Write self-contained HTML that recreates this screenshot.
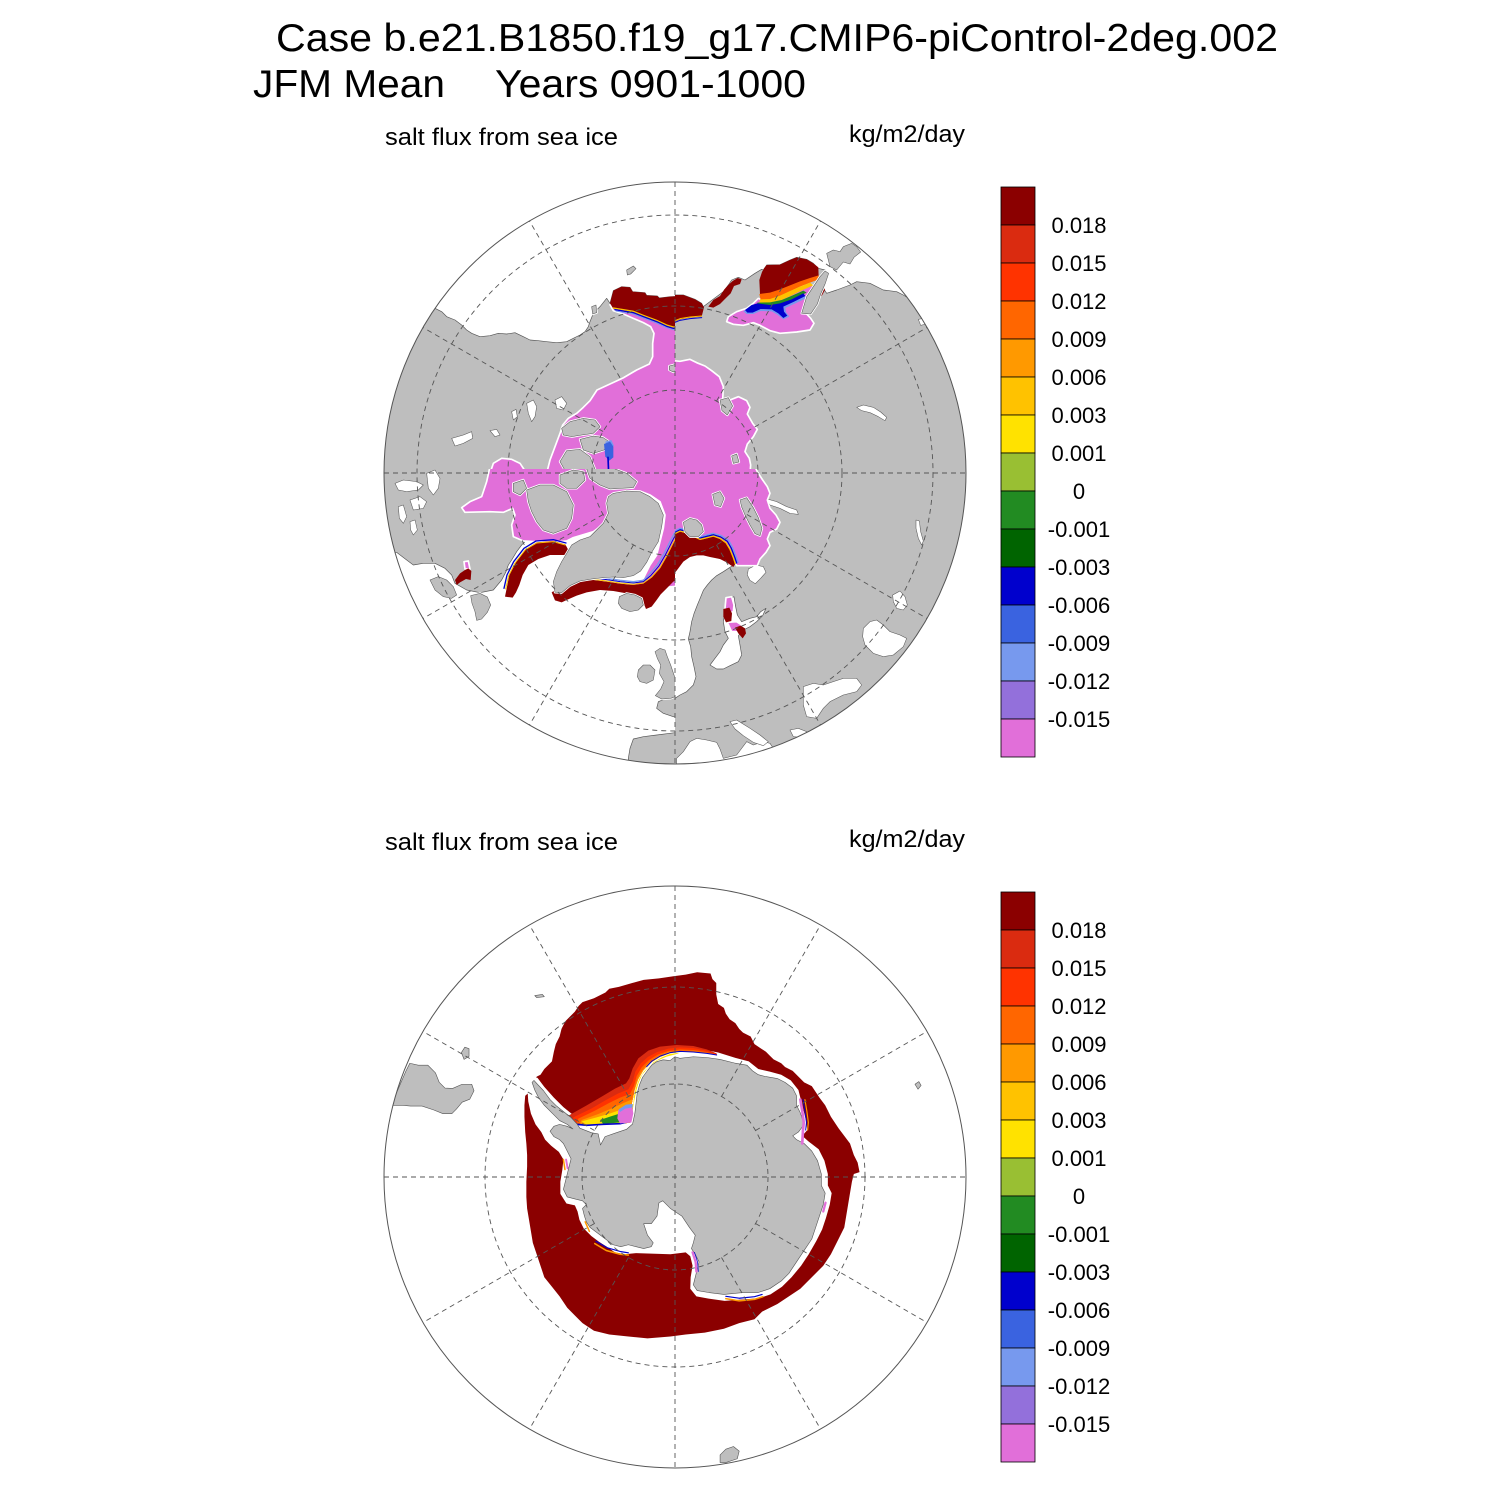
<!DOCTYPE html>
<html><head><meta charset="utf-8">
<style>
html,body{margin:0;padding:0;background:#fff}
svg{display:block}
.w{fill:#fff;stroke:#555;stroke-width:2;stroke-linejoin:round}
.wz{fill:#fff;stroke:#555;stroke-width:1.6;stroke-linejoin:round}
.p{fill:#E16FD9;stroke:#fff;stroke-width:5;stroke-linejoin:round}
.r{fill:#8B0000}
.halo{fill:#fff;stroke:#fff;stroke-width:7;stroke-linejoin:round}
.land{fill:#BEBEBE;stroke:#555;stroke-width:1.6;stroke-linejoin:round}
.grid{fill:none;stroke:#555;stroke-width:0.9;stroke-dasharray:5 4}
.ln{fill:none;stroke-linejoin:round;stroke-linecap:round}
.t{font-family:"Liberation Sans",Arial,Helvetica,sans-serif;fill:#000}
</style></head><body>
<svg width="1500" height="1500" viewBox="0 0 1500 1500" xmlns="http://www.w3.org/2000/svg">
<defs>
<clipPath id="cN"><circle cx="675" cy="473" r="291"/></clipPath>
<clipPath id="cS"><circle cx="675" cy="1177" r="291"/></clipPath>
<clipPath id="q5"><rect x="370" y="160" width="305" height="309"/></clipPath>
<clipPath id="q6"><rect x="675" y="160" width="305" height="309"/></clipPath>
<clipPath id="q7"><rect x="370" y="469" width="305" height="305"/></clipPath>
<clipPath id="q8"><rect x="675" y="469" width="305" height="305"/></clipPath>
</defs>
<rect width="1500" height="1500" fill="#fff"/>

<text class="t" x="276" y="51" font-size="39" textLength="1002" lengthAdjust="spacingAndGlyphs">Case b.e21.B1850.f19_g17.CMIP6-piControl-2deg.002</text>
<text class="t" x="253" y="97" font-size="39" textLength="192" lengthAdjust="spacingAndGlyphs">JFM Mean</text>
<text class="t" x="495" y="97" font-size="39" textLength="311" lengthAdjust="spacingAndGlyphs">Years 0901-1000</text>

<text class="t" x="385" y="145" font-size="24" textLength="233" lengthAdjust="spacingAndGlyphs">salt flux from sea ice</text>
<text class="t" x="849" y="142" font-size="24" textLength="116" lengthAdjust="spacingAndGlyphs">kg/m2/day</text>
<text class="t" x="385" y="850" font-size="24" textLength="233" lengthAdjust="spacingAndGlyphs">salt flux from sea ice</text>
<text class="t" x="849" y="847" font-size="24" textLength="116" lengthAdjust="spacingAndGlyphs">kg/m2/day</text>

<!-- ================= NORTH MAP ================= -->
<g clip-path="url(#cN)">
<circle cx="675" cy="473" r="291" fill="#BEBEBE"/>

<!-- Q5 -->
<g clip-path="url(#q5)"><g transform="translate(380 170) scale(0.333333)">
<polygon class="w" points="-10,-10 910,-10 910,378 870,380 838,384 832,378 800,376 795,368 758,365 750,352 725,350 700,362 690,400 680,385 660,410 640,430 630,455 625,470 615,485 600,495 580,505 560,515 530,518 500,515 475,512 450,510 430,500 405,488 380,492 355,490 330,497 300,500 275,490 260,480 245,465 225,450 200,440 185,425 165,415 -10,415"/>
<polygon class="wz" points="440,700 460,690 470,710 465,740 455,755 445,730"/>
<polygon class="wz" points="525,690 545,680 560,700 550,720 530,715"/>
<polygon class="wz" points="215,805 250,795 275,785 278,805 250,820 225,828"/>
<polygon class="wz" points="395,725 408,718 412,740 400,750"/>
<polygon class="wz" points="330,782 350,778 360,795 345,800"/>
<polygon class="p" points="690,404 760,418 800,432 830,445 860,460 910,468 910,910 500,910 510,870 525,830 540,790 548,765 565,745 590,730 610,712 630,692 651,660 690,642 729,624 770,600 808,582 818,560 818,520 822,490 812,470 790,458 760,445 730,432 700,422"/>
<polygon class="p" points="330,910 340,880 365,865 395,868 420,880 440,910"/>
<polygon class="r" points="690,400 700,362 725,350 750,352 758,365 795,368 800,376 832,378 838,384 870,380 910,378 910,470 880,473 860,467 830,453 790,438 760,426 700,416"/>
<polyline class="ln" stroke="#FFC200" stroke-width="4" points="700,414 760,424 790,436 830,451 860,465 880,471 910,468"/>
<polyline class="ln" stroke="#0000CD" stroke-width="4" points="705,419 760,428 790,440 830,455 860,469 880,475 910,472"/>
<polyline class="ln" stroke="#7799EE" stroke-width="3" points="708,423 760,432 790,444 830,459 860,473 880,479 910,476"/>
<g class="halo"><g id="i5">
<polygon points="545,775 570,755 610,745 645,750 660,770 640,790 605,795 575,800 550,795"/>
<polygon points="600,808 640,798 668,802 688,815 672,840 640,850 610,840"/>
<polygon points="560,842 600,838 630,860 650,910 560,910 540,875"/>
<polygon points="740,300 760,288 768,296 752,312 742,315"/>
<polygon points="635,410 648,405 650,428 638,432"/>
<polygon points="868,588 884,584 894,596 880,606 868,600"/>
</g></g>
<use href="#i5" class="land"/>
<polygon fill="#7799EE" points="676,815 694,810 702,828 680,830"/>
<polygon fill="#3A63E0" points="672,822 690,815 700,830 700,862 688,872 676,860"/>
<polyline class="ln" stroke="#0000CD" stroke-width="5" points="684,862 686,910"/>
</g></g>

<!-- Q6 -->
<g clip-path="url(#q6)"><g transform="translate(670 170) scale(0.333333)">
<polygon class="w" points="-10,-10 910,-10 910,470 770,460 760,440 740,400 700,375 680,365 640,360 600,340 560,335 540,345 500,360 470,370 460,355 475,310 465,300 445,295 430,280 410,268 380,262 360,270 330,284 290,285 280,300 275,298 255,310 225,330 205,322 185,330 175,345 160,365 140,380 120,395 100,410 95,400 75,388 40,375 0,375 -10,375"/>
<polygon class="wz" points="560,712 580,705 610,712 632,726 650,742 645,752 625,740 600,728 575,722"/>
<polygon class="wz" points="745,448 760,445 768,462 752,466"/>
<polygon class="p" points="175,440 200,425 230,415 250,400 265,385 280,392 300,392 330,382 360,368 395,350 420,342 440,352 432,372 420,400 408,430 422,445 432,460 420,480 380,486 330,490 300,482 270,466 250,458 220,466 190,463 170,455"/>
<polygon class="p" points="-10,570 30,574 60,568 80,578 105,588 125,602 148,620 160,650 158,690 180,690 205,680 230,692 240,712 232,732 248,760 262,778 250,800 232,822 225,845 238,865 242,885 240,910 -10,910"/>
<polygon class="r" points="-10,375 0,375 40,375 75,388 95,400 102,412 95,440 60,443 30,448 0,460 -10,465"/>
<polyline class="ln" stroke="#FFC200" stroke-width="3" points="-10,463 0,458 30,446 60,441 95,438"/>
<polyline class="ln" stroke="#0000CD" stroke-width="3" points="-10,468 0,463 30,451 60,446 95,443"/>
<polygon class="r" points="115,410 130,390 150,378 163,358 175,345 188,333 203,324 215,328 210,342 192,348 182,370 166,386 150,402 130,413"/>
<polygon class="r" points="268,330 276,306 282,295 290,285 330,284 360,270 380,262 410,268 430,280 445,292 446,320 420,336 390,347 360,362 330,376 300,386 280,388 270,372"/>
<polygon fill="#FF6600" points="268,372 300,368 330,358 360,346 390,334 420,324 446,316 446,328 420,338 390,350 360,364 330,378 300,388 272,390"/>
<polygon fill="#FFC200" points="270,388 300,387 330,377 360,363 392,349 420,338 430,346 398,360 365,376 335,390 300,398 268,400"/>
<polygon fill="#228B22" points="262,398 300,397 335,390 368,376 400,362 410,368 372,386 340,400 300,406 262,408"/>
<polygon fill="#7799EE" points="220,424 245,408 262,404 300,410 330,404 365,392 404,376 410,384 372,402 346,414 348,426 358,440 340,448 322,434 305,424 272,423 250,432 230,432"/>
<polygon fill="#0000CD" points="225,420 245,405 262,400 300,405 330,400 365,388 400,370 406,378 370,396 340,410 342,425 352,437 340,444 325,430 305,418 272,417 248,428 232,428"/>
<polygon class="r" points="445,350 460,345 465,360 455,378 445,372"/>
<polygon class="p" points="436,374 448,374 445,392 435,392"/>
<g class="halo"><g id="i6">
<polygon points="395,430 410,380 430,350 450,320 465,303 476,310 466,340 452,372 442,402 422,432"/>
<polygon points="470,250 490,240 510,245 520,230 545,220 560,230 572,246 552,262 540,282 520,276 500,300 480,290"/>
<polygon points="150,690 175,683 188,708 172,735 156,722"/>
<polygon points="185,858 200,852 207,876 190,880"/>
</g></g>
<use href="#i6" class="land"/>
</g></g>

<!-- Q7 -->
<g clip-path="url(#q7)"><g transform="translate(380 465) scale(0.333333)">
<polygon class="w" points="50,262 80,285 100,300 130,295 165,295 195,310 215,330 225,355 260,375 300,383 340,375 365,345 378,320 385,300 395,285 410,260 425,240 440,225 470,222 520,225 560,222 575,212 600,205 640,195 675,170 688,140 680,110 690,88 720,74 780,68 810,58 850,38 880,18 910,10 910,690 880,690 860,700 835,710 830,730 850,745 880,755 900,760 910,760 910,800 870,805 830,810 790,815 760,822 750,850 745,880 745,910 -10,910 -10,262"/>
<polygon class="wz" points="45,55 70,45 110,50 130,60 115,75 80,80 55,75"/>
<polygon class="wz" points="90,105 120,95 140,110 130,130 100,135"/>
<polygon class="wz" points="140,25 165,15 180,40 175,70 160,90 145,70"/>
<polygon class="wz" points="55,125 70,120 80,155 70,175 58,160"/>
<polygon class="wz" points="90,170 105,165 112,195 100,210 92,195"/>
<polygon class="p" points="330,-10 330,5 320,50 305,95 270,110 245,128 255,142 330,140 370,142 398,130 405,150 395,180 400,215 430,228 470,230 520,232 560,228 580,218 600,212 640,200 670,178 690,150 685,115 700,90 740,78 780,78 810,90 840,110 855,150 850,190 840,230 830,270 810,300 790,340 770,352 740,360 700,358 660,355 620,358 590,362 570,372 800,372 910,362 910,-10"/>
<polygon class="p" points="252,290 265,288 270,312 255,312"/>
<polygon class="r" points="375,395 380,370 388,330 408,292 438,252 470,232 520,228 556,238 565,255 556,270 510,270 475,282 445,300 428,330 418,360 408,382 398,398"/>
<polyline class="ln" stroke="#FFC200" stroke-width="3" points="377,372 386,332 405,294 436,254 470,234 520,230 556,240"/>
<polyline class="ln" stroke="#0000CD" stroke-width="4" points="372,370 381,330 401,290 432,250 468,228 520,224 558,234"/>
<polygon class="r" points="225,345 240,325 255,315 265,310 274,318 272,345 258,342 240,352 230,360"/>
<polygon class="r" points="515,382 530,372 560,362 600,348 640,345 680,350 720,356 760,360 790,356 815,338 840,310 860,275 880,235 895,205 910,195 910,332 880,350 860,370 842,388 830,405 815,425 798,432 790,412 760,395 740,385 700,378 660,375 620,382 590,392 560,405 545,412 525,406"/>
<polyline class="ln" stroke="#FFC200" stroke-width="3" points="530,370 560,360 600,346 640,343 680,348 720,354 760,358 790,354 815,336 840,308 860,273 880,233 895,203 910,193"/>
<polyline class="ln" stroke="#0000CD" stroke-width="3" points="560,356 600,342 640,339 680,344 720,350 760,354 790,350 812,332 836,304 856,270 876,230 892,200 910,189"/>
<polyline class="ln" stroke="#7799EE" stroke-width="4" points="600,338 640,335 680,340 720,346 760,350 790,346 808,328 832,300 852,266 872,226 888,196 910,185"/>
<g class="halo"><g id="i7">
<polygon points="685,95 700,85 740,78 780,80 810,95 835,115 850,150 845,185 835,230 815,262 800,292 782,318 760,332 730,338 700,336 670,338 635,342 600,348 570,362 545,383 525,382 520,350 530,320 545,290 560,265 575,240 600,225 630,215 650,195 670,175 685,145 680,115"/>
<polygon points="440,75 480,60 520,60 560,80 580,120 575,160 560,190 520,205 490,195 470,170 455,140 445,110"/>
<polygon points="620,12 660,5 700,10 740,25 770,50 760,68 720,70 690,72 660,60 630,40"/>
<polygon points="540,30 580,15 610,20 615,45 590,70 560,70 540,55"/>
<polygon points="400,55 430,45 440,70 420,90 400,80"/>
<polygon points="718,395 740,385 765,390 785,400 790,420 775,435 750,440 725,430 715,415"/>
<polygon points="775,615 790,600 810,600 825,615 820,645 800,655 780,650 772,635"/>
<polygon points="825,560 840,550 855,555 862,575 872,600 882,630 892,660 898,690 872,700 845,702 826,692 842,672 852,650 838,625 842,600 832,580"/>
<polygon points="272,392 300,385 322,396 332,420 322,442 305,462 290,466 285,440 276,415"/>
<polygon points="150,345 175,335 200,345 220,365 230,390 215,400 190,395 165,375"/>
</g></g>
<use href="#i7" class="land"/>
</g></g>

<!-- Q8 -->
<g clip-path="url(#q8)"><g transform="translate(670 465) scale(0.333333)">
<polygon class="w" points="-10,250 100,268 170,286 192,300 180,307 160,320 140,332 125,345 112,360 100,376 92,396 82,420 72,446 65,470 60,500 55,522 62,545 65,575 72,605 78,635 70,660 50,680 30,690 15,700 -10,705"/>
<polygon class="w" points="120,600 135,580 150,560 160,540 175,520 165,500 160,470 165,440 175,420 180,400 192,395 196,420 202,450 215,470 240,460 260,455 272,440 288,430 278,452 260,470 240,485 220,495 205,512 210,540 215,570 205,590 180,602 160,612 140,612"/>
<polygon class="wz" points="235,312 258,300 280,305 288,322 272,340 256,356 240,346 232,330"/>
<polygon class="wz" points="400,665 430,655 460,660 490,650 520,640 560,640 575,660 560,680 520,690 480,710 460,730 440,760 410,755 400,720"/>
<polygon class="wz" points="580,490 600,470 620,465 640,480 660,500 690,510 710,520 700,545 670,570 640,575 610,565 585,540 578,515"/>
<polygon class="wz" points="668,390 690,378 705,395 712,420 700,435 680,430 670,410"/>
<polygon class="wz" points="738,165 748,168 752,200 760,228 755,240 745,220 738,190"/>
<polygon class="wz" points="20,880 40,860 60,830 80,820 110,825 140,832 150,852 160,880 200,870 230,830 250,840 280,830 300,835 310,850 290,870 250,890 200,910 20,910"/>
<polygon class="wz" points="180,770 200,765 240,790 270,810 295,830 280,842 250,832 220,812 195,792"/>
<polygon class="wz" points="360,795 385,790 410,800 400,818 370,815"/>
<polygon class="wz" points="285,100 320,110 350,125 380,135 385,148 360,145 330,130 300,120"/>
<polygon class="p" points="-10,-10 250,-10 258,12 262,20 278,45 292,65 300,85 292,105 300,130 318,150 330,172 320,192 300,202 292,222 300,242 288,262 270,282 262,302 200,302 190,285 175,245 150,232 110,232 70,226 30,212 -10,236"/>
<polygon class="p" points="168,398 185,395 192,420 190,440 175,445 165,430"/>
<polygon class="p" points="172,472 200,470 215,480 205,500 185,500"/>
<polygon class="r" points="160,432 178,428 186,445 184,468 168,472 160,455"/>
<polygon class="r" points="195,488 212,482 225,490 228,505 218,520 205,505"/>
<polygon class="r" points="-10,230 10,210 30,200 50,205 70,215 90,225 110,220 130,215 150,222 168,235 180,255 190,280 195,298 190,306 170,292 150,282 120,276 100,271 80,271 60,276 40,290 25,310 10,330 0,345 -10,350"/>
<polyline class="ln" stroke="#FFC200" stroke-width="4" points="-10,228 10,208 30,198 50,203 70,213 90,223 110,218 130,213 150,220 168,233 180,253 190,278 196,296"/>
<polyline class="ln" stroke="#0000CD" stroke-width="4" points="-10,224 10,204 30,194 50,199 70,209 90,219 110,214 130,209 152,216 172,229 184,250 194,276 200,294"/>
<polyline class="ln" stroke="#7799EE" stroke-width="4" points="-10,220 10,200 30,190 50,195 70,205 90,215 110,210 130,205 154,212 176,226 188,248 198,274 204,292"/>
<g class="halo"><g id="i8">
<polygon points="40,172 60,160 80,165 95,180 100,200 85,215 60,215 45,200"/>
<polygon points="210,105 230,98 250,128 265,158 276,190 270,212 255,206 240,180 226,152 215,126"/>
<polygon points="128,88 150,80 162,100 152,125 135,120"/>
</g></g>
<use href="#i8" class="land"/>
</g></g>
</g>

<!-- North grid -->
<g class="grid">
<circle cx="675" cy="473" r="83"/>
<circle cx="675" cy="473" r="167"/>
<circle cx="675" cy="473" r="258"/>
<line x1="384" y1="473" x2="966" y2="473"/>
<line x1="675" y1="182" x2="675" y2="764"/>
<line x1="716.5" y1="401.1" x2="820.5" y2="221"/>
<line x1="746.9" y1="431.5" x2="927" y2="327.5"/>
<line x1="746.9" y1="514.5" x2="927" y2="618.5"/>
<line x1="716.5" y1="544.9" x2="820.5" y2="725"/>
<line x1="633.5" y1="544.9" x2="529.5" y2="725"/>
<line x1="603.1" y1="514.5" x2="423" y2="618.5"/>
<line x1="603.1" y1="431.5" x2="423" y2="327.5"/>
<line x1="633.5" y1="401.1" x2="529.5" y2="221"/>
</g>
<circle cx="675" cy="473" r="291" fill="none" stroke="#555" stroke-width="1"/>

<!-- ================= SOUTH MAP ================= -->
<g clip-path="url(#cS)">
<circle cx="675" cy="1177" r="291" fill="#fff"/>
<g transform="translate(380 876) scale(0.38212)">
<polygon class="r" points="770,262 800,258 830,252 865,255 870,270 880,280 880,310 885,335 900,345 905,360 915,375 930,385 940,400 950,410 970,420 980,440 995,450 1010,460 1020,470 1030,480 1050,490 1060,500 1080,510 1095,525 1110,540 1130,550 1150,580 1165,600 1180,630 1200,660 1215,680 1230,700 1240,730 1250,750 1255,775 1240,780 1235,800 1230,830 1225,860 1220,890 1215,920 1200,950 1180,990 1160,1020 1130,1050 1100,1080 1070,1100 1040,1120 1000,1140 980,1160 940,1170 900,1185 850,1195 800,1200 760,1205 700,1210 650,1205 600,1200 560,1190 530,1170 510,1150 490,1130 470,1100 450,1075 430,1050 420,1020 410,990 400,960 395,930 390,900 385,870 383,840 383,800 385,760 385,730 383,700 380,670 378,630 378,600 380,575 392,565 405,550 410,525 420,520 430,505 450,485 455,460 460,440 470,420 475,400 485,380 500,365 510,355 520,340 530,330 560,320 590,305 600,295 625,290 660,280 690,272 730,268"/>
<polygon fill="#fff" points="395,532 412,528 430,552 455,580 480,605 505,625 541,640 584,640 628,640 650,635 652,600 656,560 665,525 680,500 705,475 730,460 760,450 790,448 820,452 855,456 885,462 930,476 965,485 990,505 1020,512 1050,520 1075,535 1095,560 1105,600 1115,640 1118,665 1105,680 1122,695 1148,715 1163,745 1172,780 1172,810 1182,830 1177,860 1167,895 1157,925 1142,955 1122,990 1102,1020 1077,1050 1052,1075 1022,1095 992,1105 952,1108 902,1112 860,1106 828,1100 812,1080 813,1050 818,1020 812,995 800,985 760,990 700,988 670,987 640,990 615,985 593,970 573,957 553,942 533,922 522,900 517,878 510,862 488,857 472,832 472,800 477,770 480,742 468,722 448,706 432,690 422,670 407,650 395,622 388,590 386,560"/>
</g>
<g transform="translate(520 1000) scale(0.333333)">
<polygon fill="#DA2B10" points="140,350 200,316 245,290 285,266 318,250 328,235 338,205 355,175 385,152 420,140 470,135 520,138 560,148 590,160 590,165 560,160 520,156 480,153 450,155 420,166 395,181 378,198 362,218 352,238 345,262 340,290 335,312 335,340 330,368 300,372 250,372 200,375 160,370"/>
<polygon fill="#FF3300" points="160,352 215,325 258,300 295,280 325,268 338,245 346,215 362,190 385,170 412,156 445,146 480,142 520,144 560,152 590,162 590,165 560,160 520,156 480,153 450,155 420,166 395,181 378,198 362,218 352,238 345,262 340,290 335,312 335,340 330,368 300,372 250,372 200,375 160,370"/>
<polygon fill="#FF6600" points="175,356 225,332 265,310 300,293 330,282 342,258 350,228 365,202 387,180 413,164 445,153 480,148 520,150 560,156 590,164 560,160 520,156 480,153 450,155 420,166 395,181 378,198 362,218 352,238 345,262 340,290 335,312 335,340 330,368 300,372 250,372 200,375 170,370"/>
<polygon fill="#FF9900" points="185,360 235,342 275,325 308,310 336,298 345,268 355,238 370,212 390,190 418,172 450,160 480,155 520,154 560,158 520,156 480,153 450,155 420,166 395,181 378,198 362,218 352,238 345,262 340,290 335,312 335,340 330,368 300,372 250,372 200,375 180,370"/>
<polygon fill="#FFE200" points="185,364 230,352 265,342 295,332 322,322 340,312 342,288 348,262 358,236 372,214 390,196 412,182 440,170 470,162 480,158 450,162 425,172 400,187 382,205 366,225 356,248 349,272 344,296 340,318 336,345 330,368 300,372 250,372 200,375"/>
<polygon fill="#228B22" points="240,360 270,350 295,342 320,332 338,325 335,345 300,367 250,372"/>
<polyline class="ln" stroke="#0000CD" stroke-width="5" points="160,372 200,376 250,373 300,371 330,364"/>
<polygon fill="#E16FD9" points="295,330 315,318 336,315 340,340 334,368 300,370 292,355"/>
<polygon fill="#7799EE" points="296,328 318,314 338,312 338,322 316,326 300,336"/>
<polyline class="ln" stroke="#0000CD" stroke-width="3" points="380,200 396,183 421,168 450,158 480,154 520,156 560,160 590,165"/>
</g>
<g transform="translate(380 876) scale(0.38212)">
<polygon class="land" points="403,535 412,545 428,562 445,585 462,602 482,618 500,632 515,648 523,660 554,672 571,675 577,704 589,682 615,673 645,663 661,649 667,621 670,595 673,569 679,547 687,527 700,509 711,495 724,486 741,481 759,483 772,473 785,477 820,473 855,475 890,480 930,490 960,495 975,510 990,520 1010,525 1040,530 1060,540 1080,555 1090,575 1090,600 1100,620 1110,650 1095,670 1080,680 1090,690 1110,700 1130,720 1145,745 1155,780 1155,810 1165,830 1160,860 1150,890 1140,920 1130,950 1110,980 1090,1010 1070,1040 1050,1060 1020,1080 990,1090 950,1090 900,1095 860,1090 830,1085 820,1070 825,1050 830,1030 835,1010 825,990 815,975 820,960 825,940 810,920 790,890 760,870 740,850 730,855 725,890 710,910 690,910 700,940 715,960 710,970 690,975 670,970 650,965 630,970 610,965 590,950 570,935 550,920 540,905 535,890 530,870 540,860 530,850 510,845 490,840 480,820 485,800 490,780 495,760 500,740 490,720 480,700 470,690 455,682 445,668 455,655 470,650 490,655 505,662 490,650 470,640 450,620 430,600 415,580 405,560 398,540"/>
<polyline class="ln" stroke="#FF9900" stroke-width="3" points="1112,585 1117,615 1121,645 1119,665"/>
<polyline class="ln" stroke="#E16FD9" stroke-width="7" points="1100,585 1105,615 1109,645 1107,665 1105,700"/>
<polyline class="ln" stroke="#0000CD" stroke-width="2.5" points="1107,585 1112,615 1116,645 1114,665"/>
<polyline class="ln" stroke="#FF9900" stroke-width="4" points="562,962 592,980 628,990 650,992"/>
<polyline class="ln" stroke="#0000CD" stroke-width="3" points="565,956 595,973 630,983 650,986"/>
<polyline class="ln" stroke="#FF9900" stroke-width="4" points="905,1106 940,1112 980,1108 1002,1101"/>
<polyline class="ln" stroke="#0000CD" stroke-width="3" points="905,1100 940,1105 980,1101 1000,1095"/>
<polyline class="ln" stroke="#E16FD9" stroke-width="6" points="818,985 826,1010 828,1035"/>
<polyline class="ln" stroke="#0000CD" stroke-width="2" points="823,985 831,1010 833,1035"/>
<polyline class="ln" stroke="#E16FD9" stroke-width="6" points="1160,878 1166,855"/>
<polyline class="ln" stroke="#FF9900" stroke-width="4" points="480,742 484,768"/>
<polyline class="ln" stroke="#E16FD9" stroke-width="5" points="487,742 491,765"/>
<polyline class="ln" stroke="#FF9900" stroke-width="4" points="537,905 548,930"/>
<polygon class="land" points="20,575 40,575 55,540 68,510 78,490 100,495 125,495 145,515 155,540 170,555 190,556 215,545 240,545 246,562 235,584 215,592 200,610 188,622 165,622 140,612 110,602 80,602 60,600 20,600"/>
<polygon class="land" points="213,462 222,448 233,452 233,472 220,480"/>
<polygon class="land" points="1400,545 1410,538 1416,548 1408,558"/>
<polygon class="land" points="890,1515 905,1500 925,1493 940,1505 935,1525 905,1535 890,1535"/>
<polygon class="land" points="405,313 425,310 430,316 410,318"/>
</g>
</g>

<!-- South grid -->
<g class="grid">
<circle cx="675" cy="1177" r="93"/>
<circle cx="675" cy="1177" r="190"/>
<line x1="384" y1="1177" x2="966" y2="1177"/>
<line x1="675" y1="886" x2="675" y2="1468"/>
<line x1="721.5" y1="1096.5" x2="820.5" y2="925"/>
<line x1="755.5" y1="1130.5" x2="927" y2="1031.5"/>
<line x1="755.5" y1="1223.5" x2="927" y2="1322.5"/>
<line x1="721.5" y1="1257.5" x2="820.5" y2="1429"/>
<line x1="628.5" y1="1257.5" x2="529.5" y2="1429"/>
<line x1="594.5" y1="1223.5" x2="423" y2="1322.5"/>
<line x1="594.5" y1="1130.5" x2="423" y2="1031.5"/>
<line x1="628.5" y1="1096.5" x2="529.5" y2="925"/>
</g>
<circle cx="675" cy="1177" r="291" fill="none" stroke="#555" stroke-width="1"/>

<!-- ================= COLORBARS ================= -->
<g stroke="#000" stroke-width="0.8">
<rect x="1001" y="187" width="34" height="38" fill="#8B0000"/>
<rect x="1001" y="225" width="34" height="38" fill="#DA2B10"/>
<rect x="1001" y="263" width="34" height="38" fill="#FF3300"/>
<rect x="1001" y="301" width="34" height="38" fill="#FF6600"/>
<rect x="1001" y="339" width="34" height="38" fill="#FF9900"/>
<rect x="1001" y="377" width="34" height="38" fill="#FFC200"/>
<rect x="1001" y="415" width="34" height="38" fill="#FFE200"/>
<rect x="1001" y="453" width="34" height="38" fill="#99BF33"/>
<rect x="1001" y="491" width="34" height="38" fill="#228B22"/>
<rect x="1001" y="529" width="34" height="38" fill="#006400"/>
<rect x="1001" y="567" width="34" height="38" fill="#0000CD"/>
<rect x="1001" y="605" width="34" height="38" fill="#3A63E0"/>
<rect x="1001" y="643" width="34" height="38" fill="#7799EE"/>
<rect x="1001" y="681" width="34" height="38" fill="#9370DB"/>
<rect x="1001" y="719" width="34" height="38" fill="#E16FD9"/>

<rect x="1001" y="892" width="34" height="38" fill="#8B0000"/>
<rect x="1001" y="930" width="34" height="38" fill="#DA2B10"/>
<rect x="1001" y="968" width="34" height="38" fill="#FF3300"/>
<rect x="1001" y="1006" width="34" height="38" fill="#FF6600"/>
<rect x="1001" y="1044" width="34" height="38" fill="#FF9900"/>
<rect x="1001" y="1082" width="34" height="38" fill="#FFC200"/>
<rect x="1001" y="1120" width="34" height="38" fill="#FFE200"/>
<rect x="1001" y="1158" width="34" height="38" fill="#99BF33"/>
<rect x="1001" y="1196" width="34" height="38" fill="#228B22"/>
<rect x="1001" y="1234" width="34" height="38" fill="#006400"/>
<rect x="1001" y="1272" width="34" height="38" fill="#0000CD"/>
<rect x="1001" y="1310" width="34" height="38" fill="#3A63E0"/>
<rect x="1001" y="1348" width="34" height="38" fill="#7799EE"/>
<rect x="1001" y="1386" width="34" height="38" fill="#9370DB"/>
<rect x="1001" y="1424" width="34" height="38" fill="#E16FD9"/>
</g>

<g class="t" font-size="22" text-anchor="middle">
<text x="1079" y="233">0.018</text>
<text x="1079" y="271">0.015</text>
<text x="1079" y="309">0.012</text>
<text x="1079" y="347">0.009</text>
<text x="1079" y="385">0.006</text>
<text x="1079" y="423">0.003</text>
<text x="1079" y="461">0.001</text>
<text x="1079" y="499">0</text>
<text x="1079" y="537">-0.001</text>
<text x="1079" y="575">-0.003</text>
<text x="1079" y="613">-0.006</text>
<text x="1079" y="651">-0.009</text>
<text x="1079" y="689">-0.012</text>
<text x="1079" y="727">-0.015</text>

<text x="1079" y="938">0.018</text>
<text x="1079" y="976">0.015</text>
<text x="1079" y="1014">0.012</text>
<text x="1079" y="1052">0.009</text>
<text x="1079" y="1090">0.006</text>
<text x="1079" y="1128">0.003</text>
<text x="1079" y="1166">0.001</text>
<text x="1079" y="1204">0</text>
<text x="1079" y="1242">-0.001</text>
<text x="1079" y="1280">-0.003</text>
<text x="1079" y="1318">-0.006</text>
<text x="1079" y="1356">-0.009</text>
<text x="1079" y="1394">-0.012</text>
<text x="1079" y="1432">-0.015</text>
</g>
</svg>
</body></html>
